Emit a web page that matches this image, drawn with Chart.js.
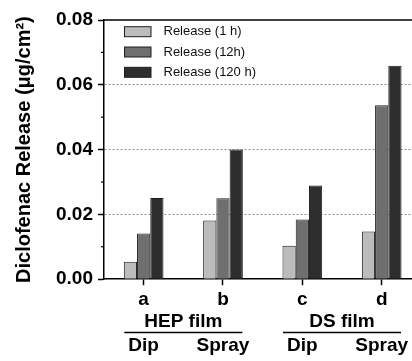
<!DOCTYPE html>
<html><head><meta charset="utf-8">
<script src="https://cdn.jsdelivr.net/npm/chart.js@4.4.0/dist/chart.umd.min.js"></script>
<style>html,body{margin:0;padding:0;background:#fff;}#wrap{width:412px;height:361px;}</style>
</head><body><div id="wrap"><canvas id="c" width="412" height="361"></canvas></div>
<script>
const categories = ['a', 'b', 'c', 'd'];
const films = ['HEP film', 'DS film'];
const methods = ['Dip', 'Spray', 'Dip', 'Spray'];
const seriesNames = ['Release (1 h)', 'Release (12h)', 'Release (120 h)'];
const release1h = [0.0054, 0.0181, 0.0103, 0.0147];
const release12h = [0.0141, 0.0250, 0.0184, 0.0537];
const release120h = [0.0251, 0.0400, 0.0289, 0.0659];
const yTicks = [0, 0.02, 0.04, 0.06, 0.08];
const yMinorTicks = [0.01, 0.03, 0.05, 0.07];
const yTitle = 'Diclofenac Release (\u03bcg/cm\u00b2)';

const colors = ['#bcbcbc', '#6f6f6f', '#2e2e2e'];
const FAMILY = '"Liberation Sans", Arial, sans-serif';
const BOLD = 'bold 19px ' + FAMILY;

const seriesValues = [release1h, release12h, release120h];
const datasets = seriesValues.map((vals, k) => ({
  label: seriesNames[k],
  data: vals.map((v, i) => ({ x: i, y: v })),
  backgroundColor: colors[k],
  borderColor: '#1e1e1e',
  borderWidth: 1,
  categoryPercentage: 0.5,
  barPercentage: 1.0
}));

const decor = {
  id: 'decor',
  afterDraw(chart) {
    const ctx = chart.ctx;
    const a = chart.chartArea;
    const xs = chart.scales.x, ys = chart.scales.y;
    ctx.save();
    ctx.strokeStyle = '#000';
    ctx.lineWidth = 1.5;
    ctx.beginPath();
    ctx.moveTo(a.left, a.top);
    ctx.lineTo(a.right, a.top);
    ctx.stroke();
    ctx.lineWidth = 1.2;
    yMinorTicks.forEach(v => {
      const y = ys.getPixelForValue(v);
      ctx.beginPath();
      ctx.moveTo(a.left - 3, y);
      ctx.lineTo(a.left, y);
      ctx.stroke();
    });
    ctx.font = '13px ' + FAMILY;
    ctx.textBaseline = 'middle';
    ctx.textAlign = 'left';
    seriesNames.forEach((n, k) => {
      const cy = 31.7 + k * 20.3;
      ctx.fillStyle = colors[k];
      ctx.fillRect(124.5, cy - 5, 26.5, 10);
      ctx.strokeStyle = '#1e1e1e';
      ctx.lineWidth = 1;
      ctx.strokeRect(124.5, cy - 5, 26.5, 10);
      ctx.fillStyle = '#111';
      ctx.fillText(n, 163.5, cy);
    });
    ctx.font = BOLD;
    ctx.fillStyle = '#000';
    ctx.textAlign = 'center';
    ctx.textBaseline = 'alphabetic';
    films.forEach((f, g) => {
      const cx = (xs.getPixelForValue(2 * g) + xs.getPixelForValue(2 * g + 1)) / 2;
      ctx.fillText(f, cx, 327);
      ctx.strokeStyle = '#000';
      ctx.lineWidth = 1.5;
      ctx.beginPath();
      ctx.moveTo(cx - 59, 332.5);
      ctx.lineTo(cx + 59, 332.5);
      ctx.stroke();
    });
    methods.forEach((m, i) => {
      ctx.fillText(m, xs.getPixelForValue(i), 351);
    });
    ctx.restore();
  }
};

new Chart(document.getElementById('c'), {
  type: 'bar',
  data: { datasets },
  options: {
    responsive: false,
    animation: false,
    devicePixelRatio: 1,
    layout: { padding: { left: 0, top: 20, right: 0, bottom: 47 } },
    plugins: { legend: { display: false }, tooltip: { enabled: false } },
    scales: {
      x: {
        type: 'linear',
        offset: false,
        min: -0.5,
        max: 3.382,
        afterBuildTicks: s => { s.ticks = categories.map((c, i) => ({ value: i })); },
        ticks: {
          callback: v => categories[v] ?? '',
          font: { family: FAMILY, size: 19, weight: 'bold' },
          color: '#000',
          padding: 3,
          maxRotation: 0,
          autoSkip: false
        },
        grid: { display: true, offset: false, drawOnChartArea: false, drawTicks: true, tickLength: 6, tickColor: '#000', tickWidth: 1.5 },
        border: { display: true, color: '#000', width: 1.5 }
      },
      y: {
        min: 0,
        max: 0.08,
        afterBuildTicks: s => { s.ticks = yTicks.map(v => ({ value: v })); },
        ticks: {
          callback: v => Number(v).toFixed(2),
          font: { family: FAMILY, size: 19, weight: 'bold' },
          color: '#000',
          padding: 5
        },
        grid: {
          color: c => (c.tick && (c.tick.value === 0 || c.tick.value === 0.08)) ? 'rgba(0,0,0,0)' : '#8c8c8c',
          lineWidth: 1,
          tickLength: 6,
          tickColor: '#000',
          tickWidth: 1.5
        },
        border: { display: true, color: '#000', width: 1.5, dash: [2, 2] },
        title: {
          display: true,
          text: yTitle,
          font: { family: FAMILY, size: 20, weight: 'bold' },
          color: '#000',
          padding: { top: 12, bottom: 15 }
        }
      }
    }
  },
  plugins: [decor]
});
</script>
</body></html>
